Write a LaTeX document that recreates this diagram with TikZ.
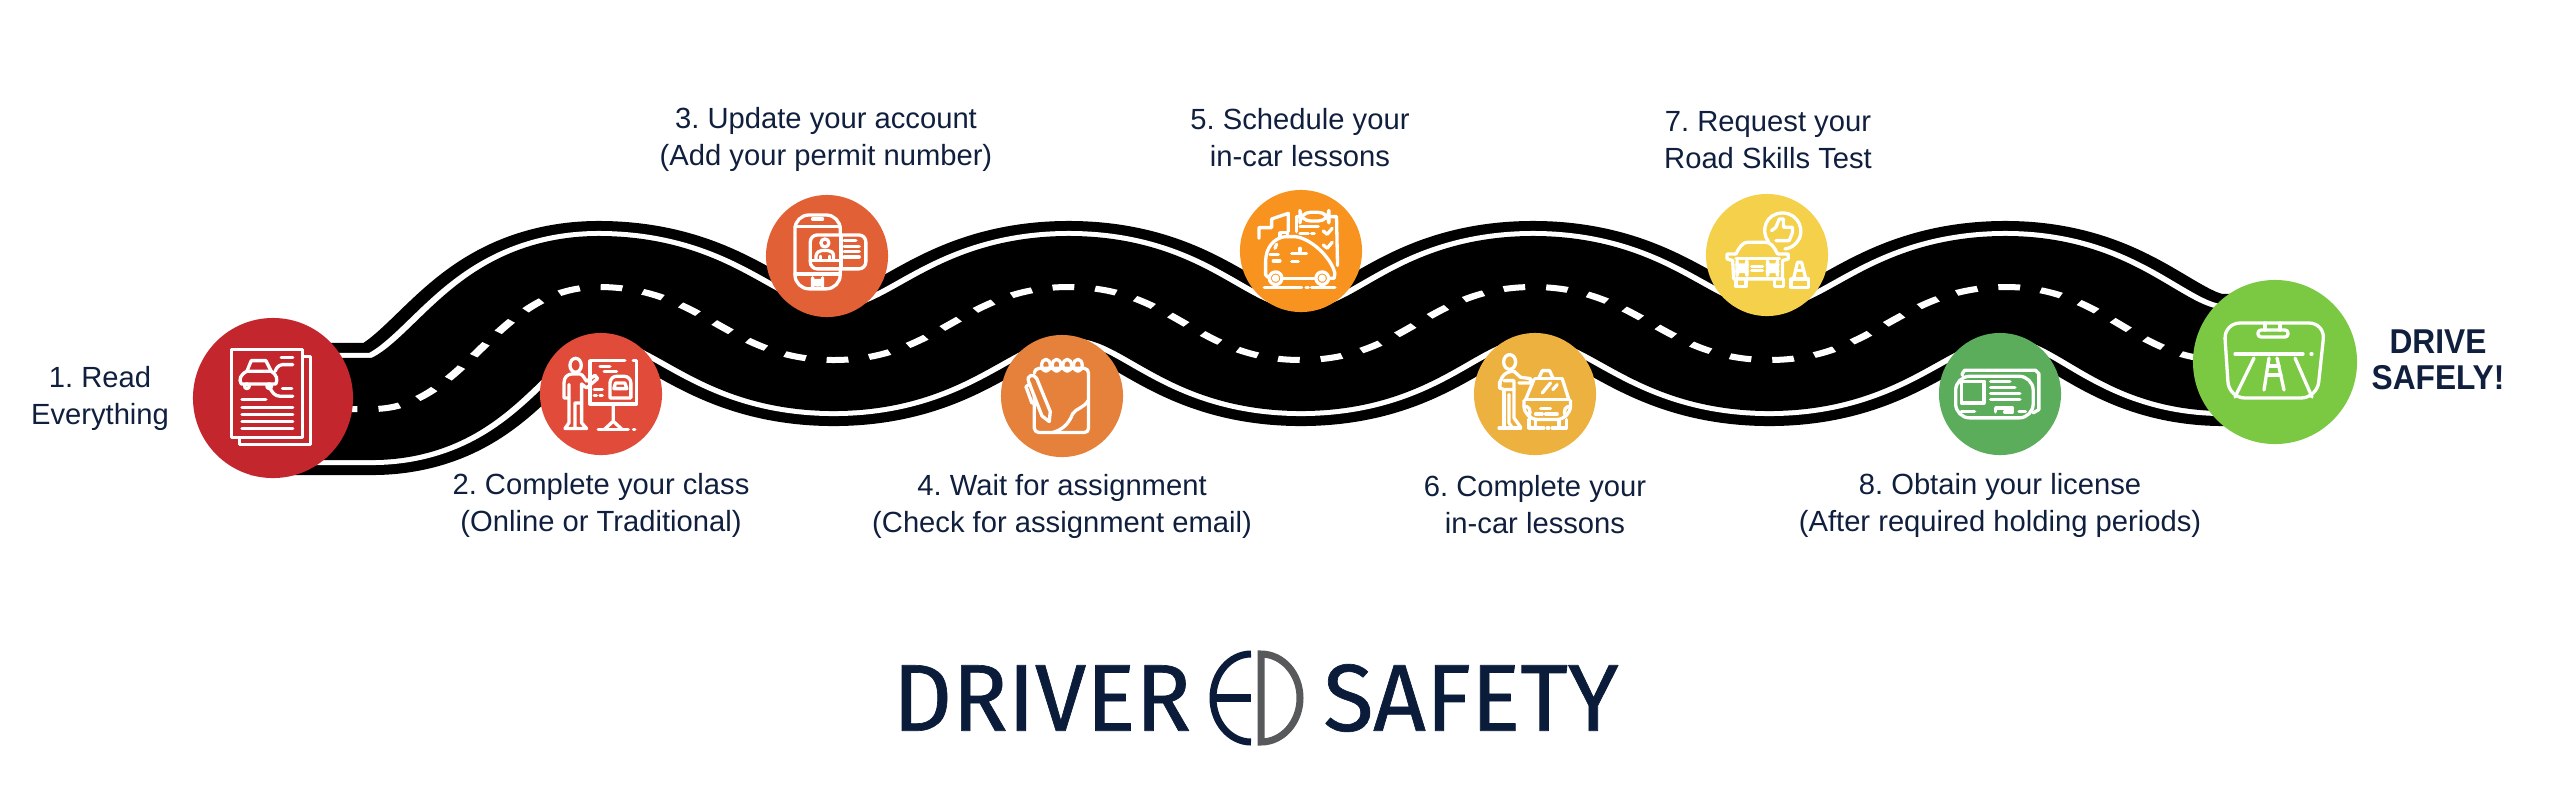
\documentclass[tikz,border=0pt]{standalone}
\usepackage{fontspec}
\setmainfont{Liberation Sans}
\newfontfamily\logofont[FakeBold=0.7, FakeStretch=0.97]{Fira Sans}
\newfontfamily\headfont[FakeStretch=0.92]{Liberation Sans}
\definecolor{inkblue}{HTML}{0F1F3D}
\definecolor{logoblue}{HTML}{0B1C3A}
\definecolor{logogray}{HTML}{58595B}
\definecolor{dotA}{HTML}{C4262E}
\definecolor{dotB}{HTML}{E04B3A}
\definecolor{dotC}{HTML}{E26036}
\definecolor{dotD}{HTML}{E5813A}
\definecolor{dotE}{HTML}{F7931E}
\definecolor{dotF}{HTML}{EDB140}
\definecolor{dotG}{HTML}{F4D04B}
\definecolor{dotH}{HTML}{5BAD5C}
\definecolor{dotI}{HTML}{7BC943}
\tikzset{
  stepdot/.style={circle, inner sep=0pt, outer sep=0pt, minimum size=1.22cm},
  bigdot/.style={stepdot, minimum size=1.6cm},
  steplabel/.style={text=inkblue, align=center, inner sep=0pt, font=\fontsize{8.3}{10.5}\selectfont\frenchspacing},
  logotext/.style={text=logoblue, inner sep=0pt, font=\logofont\fontsize{27}{28}\selectfont},
  iconline/.style={draw=white, line width=0.033cm},
  zoomed/.style={x=0.0033333cm, y=-0.0033333cm},
}
% centre line of the road
\def\roadline{(250,409) -- (372,409)
  .. controls +(95,0) and +(-105,0) .. (598,287)
  .. controls +(105,0) and +(-105,0) .. (833,360)
  .. controls +(105,0) and +(-105,0) .. (1068,287)
  .. controls +(105,0) and +(-105,0) .. (1300,360)
  .. controls +(105,0) and +(-105,0) .. (1532,287)
  .. controls +(105,0) and +(-105,0) .. (1768,360)
  .. controls +(105,0) and +(-105,0) .. (2004,287)
  .. controls +(100,0) and +(-90,0) .. (2222,360) -- (2270,360)}
\begin{document}
\begin{tikzpicture}[x=0.01cm, y=-0.01cm, line cap=round, line join=round]
  \useasboundingbox (0,0) rectangle (2560,796);

  % Road, from the outside in; it is stretched sideways
  \begin{scope}[x=0.0066667cm, transform canvas={xscale=1.5}, line cap=butt]
    \draw[black, line width=1.32cm] \roadline;
    \draw[white, line width=1.12cm] \roadline;
    \draw[black, line width=1.02cm] \roadline;
    \draw[white, line width=0.06cm, dash pattern=on 0.145cm off 0.14cm] \roadline;
  \end{scope}

  % Stops along the road
  \node[bigdot, fill=dotA] (read) at (273,398) {};
  \node[stepdot, fill=dotB] (class) at (601,394) {};
  \node[stepdot, fill=dotC] (account) at (827,256) {};
  \node[stepdot, fill=dotD] (wait) at (1062,396) {};
  \node[stepdot, fill=dotE] (schedule) at (1301,251) {};
  \node[stepdot, fill=dotF] (lessons) at (1535,394) {};
  \node[stepdot, fill=dotG] (request) at (1767,255) {};
  \node[stepdot, fill=dotH] (license) at (2000,394) {};
  \node[bigdot, fill=dotI, minimum size=1.64cm] (drive) at (2275,362) {};

  % Labels
  \node[steplabel] (readtext) at (100,398) {1. Read\\Everything};
  \node[steplabel] (classtext) at (601,505) {2. Complete your class\\(Online or Traditional)};
  \node[steplabel] (accounttext) at (826,139) {3. Update your account\\(Add your permit number)};
  \node[steplabel] (waittext) at (1062,506) {4. Wait for assignment\\(Check for assignment email)};
  \node[steplabel] (scheduletext) at (1300,138) {5. Schedule your\\in-car lessons};
  \node[steplabel] (lessonstext) at (1535,505) {6. Complete your\\in-car lessons};
  \node[steplabel] (requesttext) at (1768,140) {7. Request your\\Road Skills Test};
  \node[steplabel] (licensetext) at (2000,505) {8. Obtain your license\\(After required holding periods)};
  \node[steplabel, font=\headfont\fontsize{9.8}{10.4}\selectfont\bfseries] (drivetext) at (2438,360) {DRIVE\\SAFELY!};

  % Icon: papers with a car
  \begin{scope}[shift={(192,318)}, zoomed, iconline]
    \draw (118,95) rectangle (332,360);
    \draw (332,116) -- (356,116) -- (356,381) -- (143,381) -- (143,360);
    \draw (150,245) -- (222,245);
    \foreach \ly in {268,289,310,331} \draw (150,\ly) -- (303,\ly);
    \draw (268,118) -- (303,118);
    \draw (272,212) -- (300,212);
    \draw (303,140) -- (272,140) .. controls (258,142) and (254,150) .. (250,160);
    \draw (232,205) .. controls (240,225) and (250,235) .. (265,235) -- (303,235);
    \draw (165,160) -- (178,128) -- (222,128) -- (238,160);
    \draw (165,160) -- (238,160) .. controls (255,170) and (258,185) .. (252,198) -- (148,198) .. controls (140,185) and (145,170) .. (165,160);
    \draw (165,205) circle (7);
    \draw (232,205) circle (7);
  \end{scope}

  % Icon: teacher at a board
  \begin{scope}[shift={(545,338)}, zoomed, iconline]
    \draw (92,82) ellipse (17 and 21);
    \draw (72,180) -- (57,180) -- (57,135) .. controls (57,118) and (68,108) .. (82,108) -- (105,108) .. controls (115,110) and (120,125) .. (125,130) -- (150,112) -- (158,122) -- (125,150) -- (110,138) -- (110,195);
    \draw (72,140) -- (72,255) -- (60,272) -- (90,272) -- (90,195) -- (110,195) -- (110,255) -- (125,272) -- (90,272);
    \draw (240,68) -- (135,68) -- (135,198) -- (275,198) -- (275,68) -- (265,68);
    \draw (165,85) -- (195,85);
    \draw (178,100) -- (215,100);
    \draw (148,155) -- (172,155);
    \draw (148,172) -- (155,172);
    \draw (165,172) -- (172,172);
    \draw (195,180) -- (195,135) .. controls (197,122) and (205,115) .. (215,115) -- (238,115) .. controls (250,115) and (258,125) .. (258,135) -- (258,180) -- cycle;
    \draw (207,152) -- (212,135) -- (240,135) -- (246,152) -- cycle;
    \draw (205,198) -- (205,250) -- (178,275);
    \draw (205,250) -- (232,275);
    \draw (160,275) -- (250,275);
    \draw (266,275) -- (270,275);
  \end{scope}

  % Icon: phone with an id card
  \begin{scope}[shift={(771,199)}, zoomed, iconline]
    \draw[rounded corners=4] (72,48) rectangle (208,270);
    \draw (72,82) -- (208,82);
    \draw (72,225) -- (208,225);
    \draw (125,60) -- (155,60);
    \draw[rounded corners=2] (125,245) rectangle (155,258);
    \draw[fill=dotC, rounded corners=2] (118,108) rectangle (285,210);
    \draw (210,108) -- (210,210);
    \draw (118,185) -- (210,185);
    \draw (162,132) circle (12);
    \draw (135,185) -- (135,172) .. controls (137,160) and (145,155) .. (152,155) -- (172,155) .. controls (180,155) and (188,160) .. (188,172) -- (188,185);
    \draw (148,185) -- (148,172);
    \draw (175,185) -- (175,172);
    \draw (220,125) -- (255,125);
    \foreach \ly in {142,158,174} \draw (220,\ly) -- (265,\ly);
  \end{scope}

  % Icon: notepad and pen
  \begin{scope}[shift={(1006,340)}, zoomed, iconline]
    \draw (85,100) .. controls (87,90) and (92,85) .. (100,85) -- (235,85) .. controls (243,85) and (248,92) .. (248,100) -- (248,265) .. controls (248,273) and (243,278) .. (235,278) -- (100,278) .. controls (92,278) and (85,273) .. (85,265) -- (85,170);
    \draw (248,180) .. controls (235,205) and (210,205) .. (200,222) .. controls (190,250) and (170,270) .. (140,278);
    \foreach \lx in {120,152,184,216} \draw (\lx,76) ellipse (13 and 18);
    \draw (68,125) -- (108,228) -- (130,245) -- (133,215) -- (92,115) .. controls (85,100) and (60,105) .. (68,125);
    \draw (60,140) -- (78,190);
    \draw (60,140) -- (72,132);
  \end{scope}

  % Icon: car, town and checklist
  \begin{scope}[shift={(1245,195)}, zoomed, iconline]
    \draw (155,110) -- (155,65) -- (165,65);
    \draw (252,65) -- (275,65) -- (278,212);
    \draw[rounded corners=3] (165,52) rectangle (252,78);
    \draw (165,95) -- (220,95);
    \draw (165,115) -- (190,115);
    \draw (200,115) -- (208,115);
    \draw (235,108) -- (247,118) -- (262,100);
    \draw (235,150) -- (247,160) -- (262,142);
    \draw (42,130) -- (42,98) -- (80,98) -- (80,72) -- (130,55) -- (130,110);
    \draw (70,248) -- (62,240) -- (62,200) .. controls (62,160) and (85,130) .. (120,125) -- (150,125) .. controls (200,130) and (260,190) .. (270,235) -- (268,250) -- (252,250);
    \draw (115,250) -- (210,250);
    \draw (92,250) circle (19);
    \draw (92,250) circle (6);
    \draw (232,250) circle (19);
    \draw (232,250) circle (6);
    \draw (58,278) -- (170,278);
    \draw (183,278) -- (190,278);
    \draw (200,278) -- (270,278);
    \draw (105,125) -- (105,113) -- (128,113) -- (128,125);
    \draw (95,148) -- (90,160);
    \draw (75,178) -- (100,178);
    \draw (85,198) -- (105,198);
    \draw (140,175) -- (185,175);
    \draw (165,160) -- (165,168);
    \draw (140,200) -- (160,200);
  \end{scope}

  % Icon: examiner by a taxi
  \begin{scope}[shift={(1479,338)}, zoomed, iconline]
    \draw (92,72) ellipse (18 and 22);
    \draw (62,150) .. controls (62,115) and (80,100) .. (105,100) -- (125,118) -- (155,122) -- (155,135) -- (120,135);
    \draw (62,130) -- (62,150) -- (75,155) -- (105,155) -- (105,128) -- (75,128);
    \draw (75,155) -- (75,270);
    \draw (90,170) -- (90,255) -- (100,270);
    \draw (105,155) -- (105,240) -- (125,268);
    \draw (60,270) -- (125,270);
    \draw (168,122) -- (250,122);
    \draw (180,120) -- (190,98) -- (212,98) -- (222,120);
    \draw (165,125) -- (140,185);
    \draw (250,122) -- (270,185);
    \draw (140,185) -- (270,185);
    \draw[rounded corners=4] (135,188) -- (135,245) -- (275,245) -- (275,188);
    \draw (135,205) .. controls (150,205) and (158,215) .. (150,235);
    \draw (275,205) .. controls (260,205) and (252,215) .. (260,235);
    \draw (185,212) -- (215,212);
    \draw (170,228) -- (190,228);
    \draw (200,228) -- (235,228);
    \draw (150,245) -- (150,270) -- (170,270) -- (170,245);
    \draw (240,245) -- (240,270) -- (262,270) -- (262,245);
    \draw (170,270) -- (195,270);
    \draw (205,270) -- (210,270);
    \draw (220,270) -- (240,270);
    \draw (190,165) -- (215,135);
    \draw (222,155) -- (235,140);
  \end{scope}

  % Icon: car, thumb and cone
  \begin{scope}[shift={(1711,199)}, zoomed, iconline]
    \draw (172,127) .. controls (148,95) and (165,42) .. (215,42) .. controls (265,42) and (285,100) .. (258,130) .. controls (250,140) and (238,148) .. (222,150);
    \draw (182,95) -- (195,85) -- (205,60) -- (218,60) -- (218,85) -- (245,85) -- (245,100) -- (235,125) -- (195,125);
    \draw (75,165) .. controls (85,145) and (95,130) .. (110,130) -- (165,130) .. controls (180,130) and (190,145) .. (200,165);
    \draw (75,165) -- (48,165) -- (48,180) -- (65,185);
    \draw (200,165) -- (232,165) -- (232,180) -- (215,185);
    \draw (65,185) -- (68,240) -- (215,240) -- (215,185);
    \draw (75,178) -- (205,178);
    \draw[rounded corners=3] (78,198) rectangle (108,218);
    \draw[rounded corners=3] (170,198) rectangle (200,218);
    \draw (122,202) -- (155,202);
    \draw (122,215) -- (155,215);
    \draw (75,240) -- (75,262) -- (105,262) -- (105,240);
    \draw (190,240) -- (190,262) -- (218,262) -- (218,240);
    \draw (248,240) -- (260,190) -- (272,190) -- (285,240);
    \draw (240,240) rectangle (293,265);
    \draw (255,215) -- (278,215);
  \end{scope}

  % Icon: licence cards
  \begin{scope}[shift={(1944,338)}, zoomed, iconline]
    \draw (55,112) -- (55,107) -- (62,97) -- (275,97) -- (285,107) -- (285,215) -- (268,225);
    \draw[rounded corners=4] (35,115) rectangle (268,240);
    \draw (52,130) rectangle (120,195);
    \draw (140,130) -- (198,130);
    \draw (140,148) -- (213,148);
    \draw (140,166) -- (228,166);
    \draw (140,184) -- (228,184);
    \draw (52,220) -- (92,220);
    \draw (155,222) -- (155,210) -- (205,210) -- (205,222) -- (182,222);
    \draw (225,220) -- (245,220);
  \end{scope}

  % Icon: windshield
  \begin{scope}[iconline]
    \draw[rounded corners=1.6mm] (2224,323) -- (2325,323) -- (2317,398) -- (2229,398) -- cycle;
    \draw (2265,323) -- (2265,330);
    \draw (2280,323) -- (2280,330);
    \draw[rounded corners=0.3mm] (2258,330) rectangle (2288,337);
    \draw (2235,354) -- (2303,354);
    \draw (2311,354) -- (2312,354);
    \draw (2254,358) -- (2235,397);
    \draw (2295,358) -- (2312,397);
    \draw (2269,358) -- (2264,390);
    \draw (2277,358) -- (2284,390);
    \draw (2267,375) -- (2281,375);
    \draw (2268,366) -- (2279,366);
  \end{scope}

  % Logo
  \node[logotext] (logodriver) at (1042,698) {DRIVER};
  \node[logotext] (logosafety) at (1471,698) {SAFETY};
  \draw[logoblue, line width=0.07cm, line cap=butt] (1251,654) arc[start angle=-90, end angle=-270, x radius=38, y radius=44];
  \draw[logoblue, line width=0.08cm, line cap=butt] (1214,698) -- (1251,698);
  \draw[logogray, line width=0.07cm, line join=miter] (1261,654) arc[start angle=-90, end angle=90, x radius=39, y radius=44] -- cycle;
\end{tikzpicture}
\end{document}
